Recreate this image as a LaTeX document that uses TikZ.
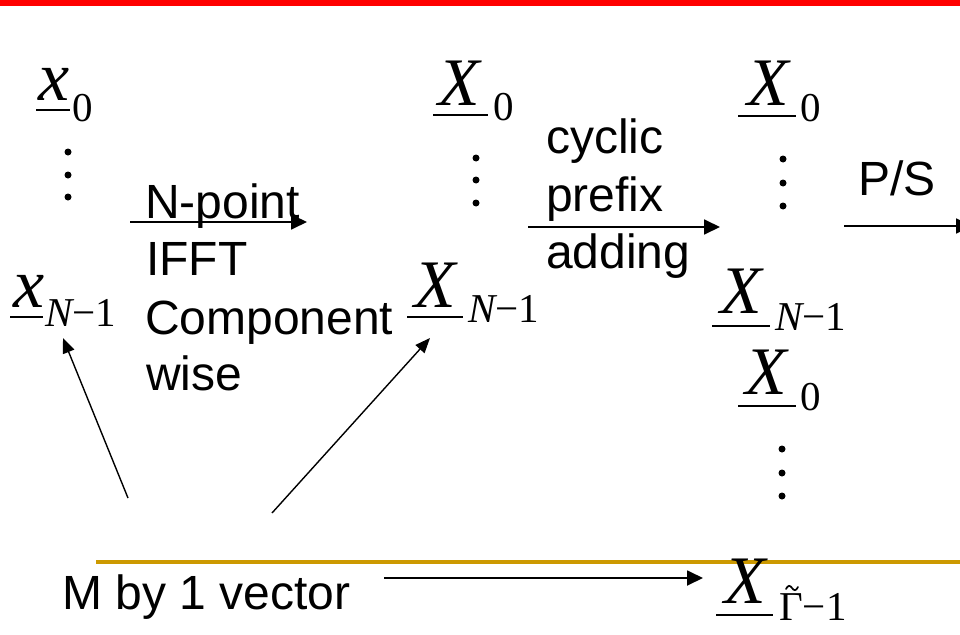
\documentclass[tikz,border=0pt]{standalone}
\usepackage{fontspec}
\setmainfont{Liberation Sans}
\newfontfamily\tnr{Liberation Serif}
\usetikzlibrary{arrows.meta}
\definecolor{barred}{RGB}{255,0,0}
\definecolor{gold}{RGB}{204,153,0}
\begin{document}
\begin{tikzpicture}[x=1pt,y=-1pt,
  lbl/.style={font=\fontsize{48}{57}\selectfont, inner sep=0pt, anchor=base west},
  bigX/.style={font=\tnr\itshape\fontsize{68}{68}\selectfont, inner sep=0pt, anchor=base west},
  bigx/.style={font=\tnr\itshape\fontsize{70}{70}\selectfont, inner sep=0pt, anchor=base west},
  subs/.style={font=\tnr\fontsize{41}{41}\selectfont, inner sep=0pt, anchor=base west},
  uline/.style={line width=2.6pt},
  arr/.style={line width=1.8pt, -{Triangle[length=16pt,width=15pt]}},
  darr/.style={line width=1.4pt, -{Triangle[length=15pt,width=12pt]}},
  vdot/.style={fill=black, draw=none},
  tildemark/.style={line width=1.7pt, line cap=round},
]
\useasboundingbox (0,0) rectangle (960,634);
% top bar and gold rule
\fill[barred] (0,0) rectangle (960,6);
\draw[line width=3.5pt, gold] (96,562) -- (960,562);

% column 1
\node[bigx] (x0) at (38,100) {x};
\draw[uline] (36,110) -- (70,110);
\node[subs] (x0s) at (72,121) {0};
\fill[vdot] (68,152) circle (3.5);
\fill[vdot] (68,175) circle (3.5);
\fill[vdot] (68,197) circle (3.5);
\node[bigx] (xN) at (13,307) {x};
\draw[uline] (10,317) -- (43,317);
\node[subs] (xNs) at (45,326) {{\itshape N}−1};

% IFFT label
\node[lbl] (t1) at (145,218) {N-point};
\node[lbl] (t2) at (146,275) {IFFT};
\node[lbl] (t3) at (145,334) {Component};
\node[lbl] (t4) at (146,390) {wise};

% column 2
\node[bigX] (X0b) at (438,105) {X};
\draw[uline] (433,115) -- (488,115);
\node[subs] (X0bs) at (493,120) {0};
\fill[vdot] (476,158) circle (3.5);
\fill[vdot] (476,180) circle (3.5);
\fill[vdot] (476,203) circle (3.5);
\node[bigX] (XNb) at (414,307) {X};
\draw[uline] (407,317) -- (463,317);
\node[subs] (XNbs) at (468,322) {{\itshape N}−1};

% cyclic prefix label
\node[lbl] (c1) at (546,153) {cyclic};
\node[lbl] (c2) at (546,211) {prefix};
\node[lbl] (c3) at (546,268) {adding};

% column 3
\node[bigX] (X0c) at (747,105) {X};
\draw[uline] (738,116) -- (796,116);
\node[subs] (X0cs) at (800,121) {0};
\fill[vdot] (783,159) circle (3.5);
\fill[vdot] (783,183) circle (3.5);
\fill[vdot] (783,206) circle (3.5);
\node[bigX] (XNc) at (720,313) {X};
\draw[uline] (712,326) -- (770,326);
\node[subs] (XNcs) at (775,330) {{\itshape N}−1};
\node[bigX] (X0d) at (745,394) {X};
\draw[uline] (738,406) -- (796,406);
\node[subs] (X0ds) at (800,410) {0};
\fill[vdot] (782,449) circle (3.5);
\fill[vdot] (782,473) circle (3.5);
\fill[vdot] (782,496) circle (3.5);
\node[bigX] (XG) at (724,603) {X};
\draw[uline] (716,615) -- (773,615);
\node[subs] (XGs) at (779,620) {Γ−1};
% tilde over Gamma
\draw[tildemark] (786,589) .. controls (788,585) and (790,585) .. (792,588)
                 .. controls (794,591) and (796,591) .. (798,587);

% P/S and bottom label
\node[lbl] (ps) at (858,195) {P/S};
\node[lbl] (mv) at (62,609) {M by 1 vector};

% arrows
\coordinate (a1s) at (130,222); \coordinate (a1e) at (307,222);
\coordinate (a2s) at (528,227); \coordinate (a2e) at (720,227);
\coordinate (a3s) at (844,226); \coordinate (a3e) at (972,226);
\coordinate (a4s) at (384,578); \coordinate (a4e) at (703,578);
\coordinate (d1s) at (128,498); \coordinate (d1e) at (63,338);
\coordinate (d2s) at (272,513); \coordinate (d2e) at (430,338);
\draw[arr] (a1s) -- (a1e);
\draw[arr] (a2s) -- (a2e);
\draw[arr] (a3s) -- (a3e);
\draw[arr] (a4s) -- (a4e);
\draw[darr] (d1s) -- (d1e);
\draw[darr] (d2s) -- (d2e);
\end{tikzpicture}
\end{document}
